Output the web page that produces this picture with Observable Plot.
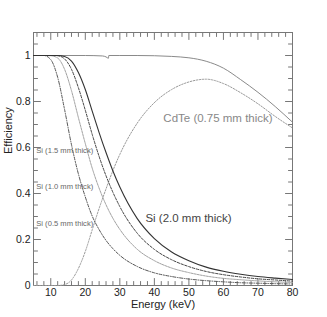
<!DOCTYPE html>
<html><head><meta charset="utf-8">
<script src="https://cdn.jsdelivr.net/npm/d3@7"></script>
<script src="https://cdn.jsdelivr.net/npm/@observablehq/plot@0.6"></script>
<style>body{margin:0;background:#fff} svg{display:block}</style>
</head><body><div id="chart"></div>
<script>
// Energy grid (keV) for the Si curves and the CdTe-behind-Si curve
const energies = [5, 8, 10, 12, 14, 16, 18, 20, 22, 24, 26, 28, 30, 35, 40, 45, 50, 55, 60, 65, 70, 75, 80];
const si05 = [1, 1, 0.982, 0.905, 0.765, 0.612, 0.485, 0.385, 0.302, 0.243, 0.196, 0.16, 0.131, 0.083, 0.055, 0.039, 0.028, 0.021, 0.016, 0.012, 0.010, 0.008, 0.0065];
const si10 = [1, 1, 0.999, 0.989, 0.94, 0.847, 0.73, 0.617, 0.51, 0.423, 0.351, 0.292, 0.244, 0.158, 0.108, 0.076, 0.056, 0.041, 0.031, 0.025, 0.020, 0.016, 0.013];
const si15 = [1, 1, 1, 0.999, 0.985, 0.94, 0.86, 0.762, 0.657, 0.561, 0.477, 0.405, 0.343, 0.228, 0.157, 0.112, 0.082, 0.061, 0.047, 0.037, 0.029, 0.024, 0.019];
const si20 = [1, 1, 1, 1, 0.996, 0.976, 0.926, 0.852, 0.758, 0.665, 0.578, 0.498, 0.428, 0.292, 0.204, 0.146, 0.108, 0.08, 0.062, 0.049, 0.039, 0.032, 0.026];
const cdteBehindSi = [0, 0, 0, 0, 0.004, 0.024, 0.074, 0.148, 0.242, 0.335, 0.42, 0.50, 0.57, 0.705, 0.795, 0.852, 0.885, 0.897, 0.878, 0.838, 0.79, 0.735, 0.685];
// CdTe alone
const cdteEnergies = [5, 10, 15, 20, 25, 26, 26.7, 26.8, 30, 35, 40, 45, 50, 55, 60, 65, 70, 75, 80];
const cdteAlone = [1, 1, 1, 1, 0.998, 0.994, 0.988, 1, 1, 1, 0.999, 0.996, 0.99, 0.975, 0.945, 0.895, 0.84, 0.778, 0.71];

const xMajorTicks = [10, 20, 30, 40, 50, 60, 70, 80];
const xMinorTicks = [6, 8, 12, 14, 16, 18, 22, 24, 26, 28, 32, 34, 36, 38, 42, 44, 46, 48, 52, 54, 56, 58, 62, 64, 66, 68, 72, 74, 76, 78];
const yMajorTicks = [0, 0.2, 0.4, 0.6, 0.8, 1];
const yMinorTicks = [0.05, 0.1, 0.15, 0.25, 0.3, 0.35, 0.45, 0.5, 0.55, 0.65, 0.7, 0.75, 0.85, 0.9, 0.95, 1.05];

const smallLabels = ["Si (1.5 mm thick)", "Si (1.0 mm thick)", "Si (0.5 mm thick)"];
const smallLabelEff = [0.585, 0.43, 0.268];

const series = (name, xs, ys) => xs.map((e, i) => ({name, e, v: ys[i]}));
const tickShape = {draw(ctx, l) { ctx.moveTo(0, 0); ctx.lineTo(0, -l); }};
const axisColor = "#777";
const tickMarks = (data, anchor, len, rot) => Plot.vector(data, {
  [anchor === "bottom" || anchor === "top" ? "x" : "y"]: d => d,
  frameAnchor: anchor, length: len, rotate: rot, anchor: "start", shape: tickShape,
  stroke: axisColor, strokeWidth: 1
});

const chart = Plot.plot({
  width: 327, height: 317,
  marginLeft: 33, marginRight: 35, marginTop: 32, marginBottom: 32,
  style: {fontFamily: "'Liberation Sans', Arial, sans-serif", background: "#fff"},
  x: {domain: [5, 80]},
  y: {domain: [0, 1.1]},
  marks: [
    Plot.frame({stroke: axisColor}),
    tickMarks(xMajorTicks, "bottom", 7, 0), tickMarks(xMinorTicks, "bottom", 4, 0),
    tickMarks(xMajorTicks, "top", 7, 180), tickMarks(xMinorTicks, "top", 4, 180),
    tickMarks(yMajorTicks, "left", 7, 90), tickMarks(yMinorTicks, "left", 4, 90),
    tickMarks(yMajorTicks, "right", 7, -90), tickMarks(yMinorTicks, "right", 4, -90),
    Plot.axisX(xMajorTicks, {tickSize: 0, tickPadding: 3, fontSize: 10.5, label: null, fill: "#222"}),
    Plot.axisY(yMajorTicks, {tickSize: 0, tickPadding: 3, fontSize: 10.5, label: null, fill: "#222", tickFormat: d => String(d)}),
    Plot.lineY(series("cdte", cdteEnergies, cdteAlone), {x: "e", y: "v", stroke: "#8a8a8a", strokeWidth: 1, curve: "monotone-x"}),
    Plot.lineY(series("cdteSi", energies, cdteBehindSi), {x: "e", y: "v", stroke: "#999", strokeWidth: 1, strokeDasharray: "1.5,1.5", curve: "monotone-x"}),
    Plot.lineY(series("si05", energies, si05), {x: "e", y: "v", stroke: "#555", strokeWidth: 1, strokeDasharray: "3,1.5,1,1.5", curve: "monotone-x"}),
    Plot.lineY(series("si10", energies, si10), {x: "e", y: "v", stroke: "#a0a0a0", strokeWidth: 1, strokeDasharray: "2,1", curve: "monotone-x"}),
    Plot.lineY(series("si15", energies, si15), {x: "e", y: "v", stroke: "#444", strokeWidth: 1, strokeDasharray: "2.5,1.5", curve: "monotone-x"}),
    Plot.lineY(series("si20", energies, si20), {x: "e", y: "v", stroke: "#333", strokeWidth: 1.1, curve: "monotone-x"}),
    Plot.text(["CdTe (0.75 mm thick)"], {x: [42.6], y: [0.726], text: d => d, textAnchor: "start", fontSize: 11.5, fill: "#888"}),
    Plot.text(["Si (2.0 mm thick)"], {x: [37.4], y: [0.293], text: d => d, textAnchor: "start", fontSize: 11.5, fill: "#444"}),
    Plot.text(smallLabels, {x: smallLabels.map(() => 5.8), y: smallLabelEff, text: d => d, textAnchor: "start", fontSize: 7.6, fill: "#666"}),
    Plot.text(["Energy (keV)"], {frameAnchor: "bottom", dy: 22, text: d => d, fontSize: 11, fill: "#222"}),
    Plot.text(["Efficiency"], {frameAnchor: "left", dx: -25, dy: -5, rotate: -90, text: d => d, fontSize: 11, fill: "#222"})
  ]
});
document.getElementById("chart").append(chart);
</script>
</body></html>
